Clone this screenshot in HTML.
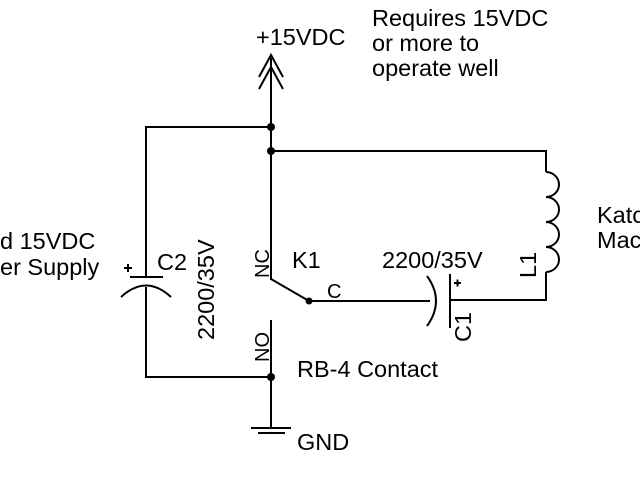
<!DOCTYPE html>
<html><head><style>body{margin:0;background:#fff}svg{display:block}text{font-family:"Liberation Sans",sans-serif;font-size:23.5px;fill:#000}</style></head>
<body><svg width="640" height="480" viewBox="0 0 640 480" xmlns="http://www.w3.org/2000/svg">
<g stroke="#000" stroke-width="2" fill="none">
<polyline points="259,77 271,55 283,77"/>
<polyline points="259,89 271,67 283,89"/>
<line x1="271" y1="58" x2="271" y2="280"/>
<polyline points="271,127 146,127 146,277"/>
<line x1="130" y1="277" x2="163" y2="277"/>
<path d="M121,297 Q146,274 171,297"/>
<polyline points="146,287 146,377 271,377"/>
<line x1="271" y1="320" x2="271" y2="428"/>
<line x1="251" y1="428" x2="291" y2="428"/>
<line x1="258" y1="433" x2="285" y2="433"/>
<line x1="271" y1="279" x2="309" y2="301"/>
<line x1="309" y1="301" x2="430" y2="301"/>
<path d="M427,276 Q445,301 427,326"/>
<line x1="450" y1="274" x2="450" y2="328"/>
<polyline points="450,300 546,300 546,272"/>
<polyline points="271,151 546,151 546,172"/>
<path d="M546,172 a13,12.5 0 0 1 0,25 a13,12.5 0 0 1 0,25 a13,12.5 0 0 1 0,25 a13,12.5 0 0 1 0,25"/>
</g>
<g fill="#000">
<circle cx="271" cy="127" r="4"/><circle cx="271" cy="151" r="4"/><circle cx="271" cy="377" r="4"/><circle cx="309" cy="301" r="3.5"/>
<rect x="124" y="267" width="8" height="2"/><rect x="127" y="264" width="2" height="8"/>
<rect x="454" y="282" width="7" height="2"/><rect x="456.5" y="279.5" width="2" height="7"/>
</g>
<text x="256" y="45">+15VDC</text>
<text x="372" y="26">Requires 15VDC</text>
<text x="372" y="51">or more to</text>
<text x="372" y="76">operate well</text>
<text x="0" y="249">d 15VDC</text>
<text x="0" y="275">er Supply</text>
<text x="157" y="270">C2</text>
<text transform="translate(214,340) rotate(-90)">2200/35V</text>
<text transform="translate(269,278) rotate(-90)" style="font-size:20px">NC</text>
<text transform="translate(269,362) rotate(-90)" style="font-size:20px">NO</text>
<text x="292" y="268">K1</text>
<text x="327" y="298" style="font-size:20px">C</text>
<text x="382" y="268">2200/35V</text>
<text transform="translate(536,278) rotate(-90)">L1</text>
<text transform="translate(471,342) rotate(-90)">C1</text>
<text x="297" y="377">RB-4 Contact</text>
<text x="297" y="450">GND</text>
<text x="597" y="223">Katc</text>
<text x="597" y="248">Mac</text>
</svg></body></html>
